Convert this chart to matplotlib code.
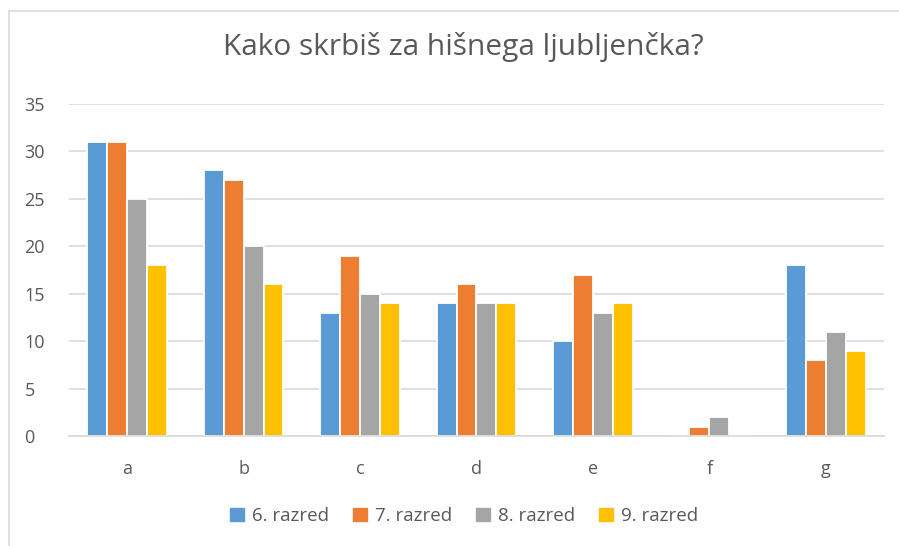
import numpy as np
import matplotlib
matplotlib.use('Agg')
import matplotlib.pyplot as plt
from matplotlib import patches

categories = ['a', 'b', 'c', 'd', 'e', 'f', 'g']
series_names = ['6. razred', '7. razred', '8. razred', '9. razred']
razred_6 = [31, 28, 13, 14, 10, 0, 18]
razred_7 = [31, 27, 19, 16, 17, 1, 8]
razred_8 = [25, 20, 15, 14, 13, 2, 11]
razred_9 = [18, 16, 14, 14, 14, 0, 9]
y_ticks = [0, 5, 10, 15, 20, 25, 30, 35]

colors = ['#5B9BD5', '#ED7D31', '#A5A5A5', '#FFC000']
text_color = '#595959'
grid_color = '#D9D9D9'

plt.rcParams['font.family'] = ['Open Sans', 'DejaVu Sans']

W, H = 899, 546
fig = plt.figure(figsize=(W / 100, H / 100), dpi=100)
ax = fig.add_axes([69 / W, 1 - 436 / H, (884 - 69) / W, (436 - 104) / H])

#-- chart border (runs off the right and bottom edges)
fig.patches.append(patches.Rectangle((8.5 / W, -0.1), 1.2, 1 - 10.5 / H + 0.1,
                                     transform=fig.transFigure, fill=False,
                                     edgecolor=grid_color, linewidth=1.2))

x = np.arange(len(categories))
slot = 0.171
all_series = [razred_6, razred_7, razred_8, razred_9]
for i, (vals, name) in enumerate(zip(all_series, series_names)):
    offs = (i - 1.5) * slot
    ax.bar(x + offs, vals, width=slot, color=colors[i], edgecolor='white',
           linewidth=1.3, label=name, zorder=3)

ax.set_xlim(-0.5, len(categories) - 0.5)
ax.set_ylim(0, 35)
ax.set_yticks(y_ticks)
ax.set_xticks(x)
ax.set_xticklabels(categories)
ax.yaxis.grid(True, color=grid_color, linewidth=1.2, zorder=0)
ax.set_axisbelow(True)
for side in ['top', 'right', 'left']:
    ax.spines[side].set_visible(False)
ax.spines['bottom'].set_color(grid_color)
ax.spines['bottom'].set_linewidth(1.2)
ax.spines['bottom'].set_zorder(4)
ax.tick_params(axis='both', length=0, colors=text_color, labelsize=13)
ax.tick_params(axis='x', pad=17)
ax.tick_params(axis='y', pad=32)
for lbl in ax.get_yticklabels():
    lbl.set_horizontalalignment('left')

fig.text(463 / W, 1 - 47 / H, 'Kako skrbiš za hišnega ljubljenčka?',
         ha='center', va='center', fontsize=21.5, color=text_color)

handles = [patches.Patch(color=c) for c in colors]
fig.legend(handles, series_names, loc='center', bbox_to_anchor=(464 / W, 1 - 516 / H),
           ncol=4, frameon=False, fontsize=13.5, labelcolor=text_color,
           handlelength=0.75, handleheight=0.75, handletextpad=0.4, columnspacing=1.3)

fig.savefig('out.png', dpi=100)
